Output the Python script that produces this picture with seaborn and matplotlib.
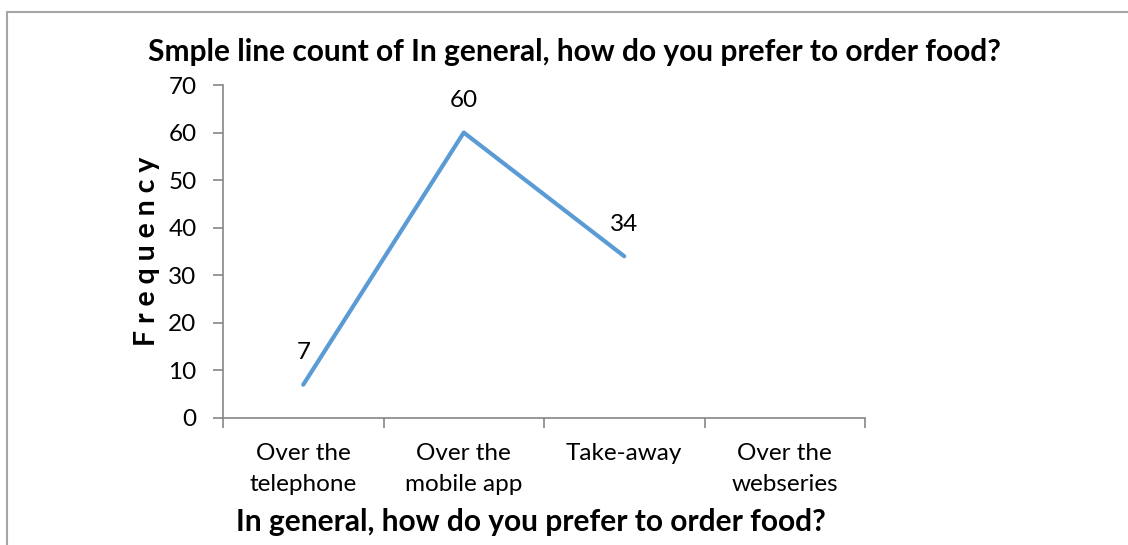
import matplotlib
matplotlib.use("Agg")
import matplotlib.pyplot as plt
from matplotlib.lines import Line2D
import numpy as np
import pandas as pd
import seaborn as sns

categories = ["Over the\ntelephone", "Over the\nmobile app", "Take-away", "Over the\nwebseries"]
frequency = [7, 60, 34, np.nan]
y_ticks = [0, 10, 20, 30, 40, 50, 60, 70]

title_text = "Smple line count of In general, how do you prefer to order food?"
x_title = "In general, how do you prefer to order food?"
y_title = "F r e q u e n c y"

sns.set_theme(style="white")
plt.rcParams["font.family"] = ["Lato", "DejaVu Sans"]

df = pd.DataFrame({"pos": np.arange(len(categories)), "freq": frequency})

fig = plt.figure(figsize=(11.28, 5.45), dpi=100)
ax = fig.add_axes([223 / 1128, 127 / 545, 642 / 1128, 333 / 545])

line_color = "#5B9BD5"
axis_color = "#868686"
label_size = 17.5

sns.lineplot(data=df.dropna(), x="pos", y="freq", ax=ax, color=line_color,
             linewidth=3, solid_capstyle="round")

ax.set_xlim(-0.5, len(categories) - 0.5)
ax.set_ylim(y_ticks[0], y_ticks[-1])
ax.set_yticks(y_ticks)
ax.set_yticklabels([str(t) for t in y_ticks])

# boundaries between categories carry tick marks, centres carry labels
ax.set_xticks(np.arange(len(categories) + 1) - 0.5)
ax.set_xticklabels([])
ax.set_xticks(np.arange(len(categories)), minor=True)
ax.set_xticklabels(categories, minor=True)

ax.tick_params(axis="x", which="major", length=7, width=1.2, color=axis_color, direction="out", bottom=True)
ax.tick_params(axis="x", which="minor", length=0, pad=18, labelsize=label_size, labelcolor="black")
ax.tick_params(axis="y", length=7, width=1.2, color=axis_color, direction="out", left=True,
               labelsize=label_size, pad=12, labelcolor="black")
for lab in ax.get_xticklabels(minor=True):
    lab.set_linespacing(1.6)

for side in ["top", "right"]:
    ax.spines[side].set_visible(False)
for side in ["left", "bottom"]:
    ax.spines[side].set_color(axis_color)
    ax.spines[side].set_linewidth(1.2)

ax.set_xlabel("")
ax.set_ylabel("")

for xi, v in zip(df["pos"], df["freq"]):
    if not np.isnan(v):
        ax.annotate(f"{v:g}", (xi, v), xytext=(0, 23), textcoords="offset points",
                    ha="center", va="center", fontsize=label_size, color="black")

fig.text(574 / 1128, 1 - 52 / 545, title_text, ha="center", va="center",
         fontsize=21.5, fontweight="bold", color="black")
fig.text(531 / 1128, 1 - 522 / 545, x_title, ha="center", va="center",
         fontsize=21.5, fontweight="bold", color="black")
fig.text(147 / 1128, 1 - 251 / 545, y_title, ha="center", va="center", rotation=90,
         fontsize=20.5, fontweight="bold", color="black")

# chart frame on the left and top edges
frame_color = "#A6A6A6"
fig.add_artist(Line2D([7 / 1128, 7 / 1128], [0, 1 - 12 / 545], transform=fig.transFigure,
                      color=frame_color, linewidth=1.5))
fig.add_artist(Line2D([7 / 1128, 1], [1 - 12 / 545, 1 - 12 / 545], transform=fig.transFigure,
                      color=frame_color, linewidth=1.5))

fig.savefig("out.png", dpi=100, facecolor="white")
